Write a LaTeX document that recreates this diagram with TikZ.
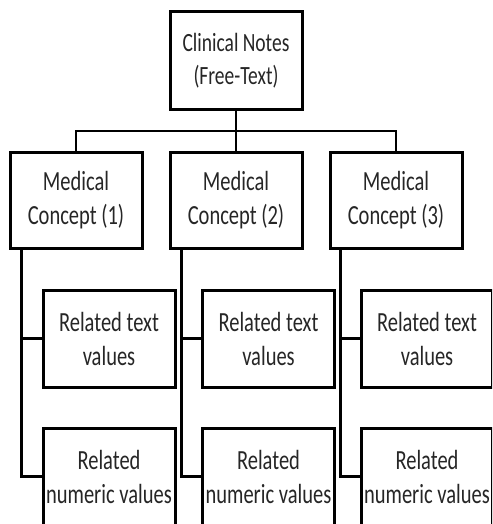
\documentclass[tikz,border=0pt]{standalone}
\usepackage{fontspec}
\usepackage{graphicx}
\setmainfont{Carlito}
\newcommand{\tline}[1]{\scalebox{1}[1.35]{#1}}
\tikzset{
  box/.style={draw=black, line width=3pt, fill=white, align=center, inner sep=0pt,
    text=black!85, font=\fontsize{20.5}{34}\selectfont},
  conn/.style={draw=black, line width=2.8pt},
}
\begin{document}
\begin{tikzpicture}[x=1pt,y=-1pt]
\useasboundingbox (0,0) rectangle (492,524);
\clip (0,0) rectangle (492,524);
\fill[white] (0,0) rectangle (492,524);
% top
\node[box, minimum width=132pt, minimum height=98pt, font=\fontsize{19.5}{33}\selectfont] (top) at (236,61) {\tline{Clinical Notes}\\\tline{(Free-Text)}};
% medical concepts
\node[box, minimum width=132pt, minimum height=96pt] (m1) at (76,200) {\tline{Medical}\\\tline{Concept (1)}};
\node[box, minimum width=132pt, minimum height=96pt] (m2) at (236,200) {\tline{Medical}\\\tline{Concept (2)}};
\node[box, minimum width=132pt, minimum height=96pt] (m3) at (396,200) {\tline{Medical}\\\tline{Concept (3)}};
% text values
\node[box, minimum width=132pt, minimum height=97pt] (t1) at (109,338.5) {\tline{Related text}\\\tline{values}};
\node[box, minimum width=132pt, minimum height=97pt] (t2) at (268.5,338.5) {\tline{Related text}\\\tline{values}};
\node[box, minimum width=131pt, minimum height=97pt] (t3) at (427,338.5) {\tline{Related text}\\\tline{values}};
% numeric values
\node[box, minimum width=132pt, minimum height=97pt] (n1) at (109,476.5) {\tline{Related}\\\tline{numeric values}};
\node[box, minimum width=132pt, minimum height=97pt] (n2) at (268.5,476.5) {\tline{Related}\\\tline{numeric values}};
\node[box, minimum width=131pt, minimum height=97pt] (n3) at (427,476.5) {\tline{Related}\\\tline{numeric values}};
% connectors
\coordinate (bus) at (236,131);
\draw[conn] (top.south) -- (m2.north);
\draw[conn] (m1.north) |- (bus) -| (m3.north);
\foreach \i/\s in {1/13,2/13,3/12}{
  \draw[conn] ([xshift=\s pt]m\i.south west) |- (t\i.west);
  \draw[conn] ([xshift=\s pt]m\i.south west) |- (n\i.west);
}
\end{tikzpicture}
\end{document}
